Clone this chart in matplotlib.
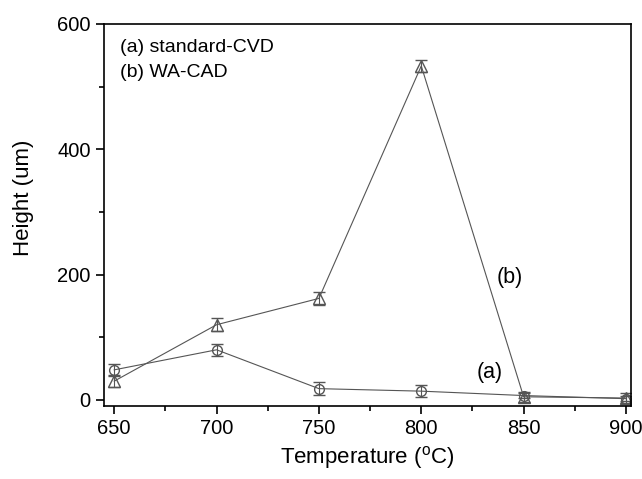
import numpy as np
import matplotlib.pyplot as plt
from matplotlib.ticker import MultipleLocator

# data
temp = [650, 700, 750, 800, 850, 900]
h_a = [48, 80, 18, 14, 7, 2]
err_a = [10, 10, 10, 10, 4, 4]
h_b = [30, 120, 162, 533, 5, 3]
err_b = [10, 10, 10, 10, 8, 8]

plt.rcParams.update({
    'font.family': ['Liberation Sans', 'DejaVu Sans'],
    'mathtext.fontset': 'custom',
    'mathtext.rm': 'Liberation Sans',
})

fig = plt.figure(figsize=(6.42, 4.79), dpi=100)
ax = fig.add_axes([0.162, 0.152, 0.821, 0.798])

ax.errorbar(temp, h_a, yerr=err_a, color='#555555', lw=0.8, marker='o',
            ms=7, mfc='none', mec='#555555', capsize=4, elinewidth=0.8)
ax.errorbar(temp, h_b, yerr=err_b, color='#555555', lw=0.8, marker='^',
            ms=8, mfc='none', mec='#555555', capsize=4, elinewidth=0.8)

# curve labels
ax.text(833.5, 43, '(a)', fontsize=15.5, ha='center', va='center')
ax.text(843, 195, '(b)', fontsize=15.5, ha='center', va='center')
ax.text(653, 563, '(a) standard-CVD', fontsize=14, va='center')
ax.text(653, 522, '(b) WA-CAD', fontsize=14, va='center')

ax.set_xlim(645, 902.5)
ax.set_ylim(-10, 600)
ax.set_xticks([650, 700, 750, 800, 850, 900])
ax.set_yticks([0, 200, 400, 600])
ax.xaxis.set_minor_locator(MultipleLocator(25))
ax.yaxis.set_minor_locator(MultipleLocator(100))
ax.tick_params(which='both', direction='out', width=1.2)
ax.tick_params(which='major', length=6, labelsize=14.5)
ax.tick_params(which='minor', length=3.5)
for s in ax.spines.values():
    s.set_linewidth(1.2)

ax.set_xlabel('Temperature ($^{\\mathrm{o}}$C)', fontsize=16)
ax.set_ylabel('Height (um)', fontsize=16)
ax.yaxis.set_label_coords(-0.133, 0.545)

fig.savefig('out.png')
